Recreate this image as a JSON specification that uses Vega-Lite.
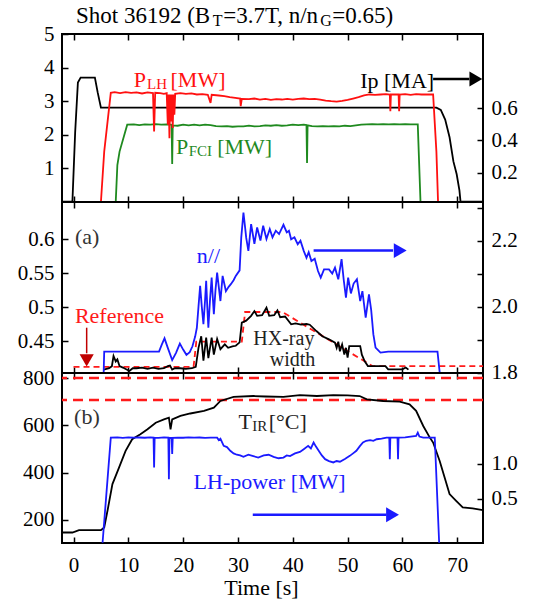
{
  "$schema": "https://vega.github.io/schema/vega-lite/v6.json",
  "background": "white",
  "padding": {"left": 16, "top": 4, "right": 6, "bottom": 2},
  "spacing": 0,
  "bounds": "flush",
  "resolve": {"scale": {"color": "independent", "size": "independent"}},
  "config": {
    "font": "Times New Roman, Liberation Serif, Times, serif",
    "view": {"stroke": "#000000", "strokeWidth": 2},
    "style": {
      "guide-label": {"font": "Times New Roman, Liberation Serif, Times, serif"},
      "guide-title": {"font": "Times New Roman, Liberation Serif, Times, serif"}
    },
    "axis": {"labelFont": "Times New Roman, Liberation Serif, Times, serif", "labelFontSize": 21, "labelColor": "#000000", "tickColor": "#000000", "tickWidth": 1.5, "tickSize": -6, "domain": false, "grid": false, "labelPadding": 14, "titleFont": "Times New Roman, Liberation Serif, Times, serif", "titleFontSize": 22, "titleFontWeight": "normal", "titleColor": "#000000"},
    "text": {"font": "Times New Roman, Liberation Serif, Times, serif"}
  },
  "datasets": {
    "ip": [{"t":-2.1,"v":0.02},{"t":-0.2,"v":0.02},{"t":0.3,"v":0.45},{"t":0.8,"v":0.76},{"t":1.3,"v":0.79},{"t":3.9,"v":0.79},{"t":4.4,"v":0.7},{"t":5.0,"v":0.604},{"t":66.2,"v":0.604},{"t":67.0,"v":0.59},{"t":67.8,"v":0.53},{"t":68.6,"v":0.42},{"t":69.3,"v":0.27},{"t":69.9,"v":0.19},{"t":70.4,"v":0.09},{"t":70.6,"v":0.02},{"t":74.7,"v":0.02}],
    "plh": [{"t":-2.1,"v":0},{"t":5.0,"v":0},{"t":5.6,"v":1.5},{"t":6.8,"v":3.25},{"t":7.5,"v":3.27},{"t":8.5,"v":3.24},{"t":9.5,"v":3.27},{"t":10.5,"v":3.25},{"t":11.5,"v":3.26},{"t":12.5,"v":3.23},{"t":13.5,"v":3.26},{"t":14.5,"v":3.24},{"t":14.7,"v":2.1},{"t":14.9,"v":3.25},{"t":15.8,"v":3.24},{"t":16.5,"v":3.22},{"t":17.0,"v":3.24},{"t":17.2,"v":2.3},{"t":17.35,"v":3.2},{"t":17.5,"v":1.9},{"t":17.65,"v":3.2},{"t":17.8,"v":2.4},{"t":17.95,"v":3.2},{"t":18.1,"v":2.2},{"t":18.25,"v":3.2},{"t":18.4,"v":2.6},{"t":18.55,"v":3.22},{"t":19.5,"v":3.24},{"t":20.5,"v":3.22},{"t":21.5,"v":3.23},{"t":22.5,"v":3.2},{"t":23.5,"v":3.21},{"t":24.5,"v":3.19},{"t":25.0,"v":2.95},{"t":25.2,"v":3.19},{"t":26.5,"v":3.17},{"t":27.5,"v":3.15},{"t":28.5,"v":3.12},{"t":29.5,"v":3.1},{"t":30.4,"v":3.08},{"t":30.5,"v":2.85},{"t":30.7,"v":3.07},{"t":32,"v":3.06},{"t":33,"v":3.08},{"t":34,"v":3.05},{"t":35,"v":3.07},{"t":36,"v":3.04},{"t":37,"v":3.06},{"t":38,"v":3.05},{"t":39,"v":3.07},{"t":40,"v":3.05},{"t":41,"v":3.07},{"t":42,"v":3.08},{"t":43,"v":3.06},{"t":44,"v":3.07},{"t":45,"v":3.05},{"t":46,"v":3.02},{"t":47,"v":3.0},{"t":48,"v":2.99},{"t":49,"v":3.01},{"t":50,"v":3.04},{"t":51,"v":3.08},{"t":52,"v":3.12},{"t":53,"v":3.17},{"t":54,"v":3.2},{"t":55,"v":3.19},{"t":56,"v":3.2},{"t":57,"v":3.21},{"t":57.7,"v":3.2},{"t":57.8,"v":2.7},{"t":57.9,"v":3.2},{"t":59.3,"v":3.2},{"t":59.4,"v":2.7},{"t":59.5,"v":3.2},{"t":60.5,"v":3.21},{"t":61.5,"v":3.19},{"t":62.5,"v":3.21},{"t":63.5,"v":3.2},{"t":64.5,"v":3.2},{"t":65.6,"v":3.2},{"t":66.2,"v":1.5},{"t":66.5,"v":0},{"t":74.7,"v":0}],
    "pfci": [{"t":-2.1,"v":0},{"t":7.7,"v":0},{"t":8.0,"v":1.1},{"t":8.4,"v":1.5},{"t":9.8,"v":2.3},{"t":11,"v":2.31},{"t":12,"v":2.29},{"t":13,"v":2.31},{"t":14,"v":2.3},{"t":15,"v":2.32},{"t":16,"v":2.3},{"t":17,"v":2.31},{"t":17.9,"v":2.3},{"t":18.0,"v":1.13},{"t":18.1,"v":2.28},{"t":19,"v":2.27},{"t":20,"v":2.3},{"t":21,"v":2.28},{"t":22,"v":2.3},{"t":23,"v":2.28},{"t":24,"v":2.3},{"t":25,"v":2.29},{"t":26,"v":2.26},{"t":27,"v":2.25},{"t":28,"v":2.26},{"t":29,"v":2.24},{"t":30,"v":2.25},{"t":31,"v":2.25},{"t":32,"v":2.27},{"t":33,"v":2.25},{"t":34,"v":2.26},{"t":35,"v":2.28},{"t":36,"v":2.27},{"t":37,"v":2.29},{"t":38,"v":2.27},{"t":39,"v":2.28},{"t":40,"v":2.3},{"t":41,"v":2.29},{"t":42,"v":2.3},{"t":42.5,"v":2.29},{"t":42.6,"v":1.16},{"t":42.7,"v":2.28},{"t":43.5,"v":2.26},{"t":44.5,"v":2.25},{"t":45.5,"v":2.26},{"t":46.5,"v":2.25},{"t":47.5,"v":2.26},{"t":48.5,"v":2.25},{"t":49.5,"v":2.27},{"t":50.5,"v":2.26},{"t":51.5,"v":2.28},{"t":52.5,"v":2.3},{"t":53.5,"v":2.31},{"t":54.5,"v":2.32},{"t":55.5,"v":2.31},{"t":56.5,"v":2.32},{"t":57.5,"v":2.31},{"t":58.5,"v":2.32},{"t":59.5,"v":2.31},{"t":60.5,"v":2.32},{"t":61.5,"v":2.31},{"t":62.8,"v":2.31},{"t":63.3,"v":0},{"t":74.7,"v":0}],
    "npar": [{"t":5.5,"v":1.8},{"t":5.6,"v":1.864},{"t":15.6,"v":1.864},{"t":16.1,"v":1.885},{"t":16.6,"v":1.904},{"t":17.2,"v":1.875},{"t":18.0,"v":1.838},{"t":18.7,"v":1.86},{"t":19.4,"v":1.888},{"t":20.0,"v":1.87},{"t":20.6,"v":1.854},{"t":21.2,"v":1.862},{"t":21.7,"v":1.88},{"t":22.2,"v":1.91},{"t":22.5,"v":1.936},{"t":22.8,"v":2.0},{"t":23.1,"v":2.063},{"t":23.4,"v":2.0},{"t":23.7,"v":1.947},{"t":24.0,"v":2.02},{"t":24.2,"v":2.078},{"t":24.4,"v":2.0},{"t":24.6,"v":1.936},{"t":24.9,"v":2.02},{"t":25.2,"v":2.088},{"t":25.4,"v":2.03},{"t":25.6,"v":1.977},{"t":25.9,"v":2.05},{"t":26.2,"v":2.103},{"t":26.5,"v":2.06},{"t":26.8,"v":2.017},{"t":27.2,"v":2.093},{"t":27.5,"v":2.07},{"t":27.8,"v":2.047},{"t":28.3,"v":2.06},{"t":28.7,"v":2.068},{"t":29.2,"v":2.08},{"t":29.6,"v":2.093},{"t":30.3,"v":2.11},{"t":30.6,"v":2.209},{"t":31.0,"v":2.285},{"t":31.3,"v":2.24},{"t":31.5,"v":2.209},{"t":31.9,"v":2.169},{"t":32.4,"v":2.25},{"t":32.7,"v":2.22},{"t":33.0,"v":2.19},{"t":33.5,"v":2.24},{"t":34.1,"v":2.2},{"t":34.6,"v":2.245},{"t":35.2,"v":2.205},{"t":35.8,"v":2.235},{"t":36.3,"v":2.21},{"t":36.9,"v":2.23},{"t":37.5,"v":2.22},{"t":38.3,"v":2.248},{"t":38.9,"v":2.225},{"t":39.3,"v":2.23},{"t":39.7,"v":2.204},{"t":40.3,"v":2.21},{"t":40.9,"v":2.189},{"t":41.4,"v":2.2},{"t":42.0,"v":2.169},{"t":42.5,"v":2.148},{"t":42.9,"v":2.165},{"t":43.4,"v":2.138},{"t":44.0,"v":2.145},{"t":44.6,"v":2.108},{"t":45.1,"v":2.088},{"t":45.7,"v":2.113},{"t":46.6,"v":2.113},{"t":47.2,"v":2.1},{"t":47.7,"v":2.118},{"t":48.3,"v":2.083},{"t":48.9,"v":2.144},{"t":49.3,"v":2.08},{"t":49.7,"v":2.027},{"t":50.1,"v":2.088},{"t":50.6,"v":2.04},{"t":51.1,"v":2.07},{"t":51.7,"v":2.083},{"t":52.3,"v":2.017},{"t":52.7,"v":2.047},{"t":53.3,"v":1.967},{"t":53.9,"v":2.037},{"t":54.3,"v":1.99},{"t":54.7,"v":1.916},{"t":55.1,"v":1.876},{"t":56.0,"v":1.861},{"t":57.4,"v":1.864},{"t":66.4,"v":1.864},{"t":66.8,"v":1.8}],
    "hx": [{"t":5.5,"v":0.408},{"t":6.5,"v":0.41},{"t":7.0,"v":0.413},{"t":7.3,"v":0.428},{"t":7.7,"v":0.42},{"t":8.0,"v":0.423},{"t":8.4,"v":0.413},{"t":9.0,"v":0.411},{"t":10.2,"v":0.406},{"t":10.8,"v":0.41},{"t":11.5,"v":0.41},{"t":12.5,"v":0.411},{"t":13.5,"v":0.409},{"t":14.5,"v":0.411},{"t":15.5,"v":0.409},{"t":16.5,"v":0.41},{"t":17.2,"v":0.413},{"t":17.6,"v":0.414},{"t":18.0,"v":0.408},{"t":18.5,"v":0.41},{"t":19.5,"v":0.41},{"t":20.5,"v":0.409},{"t":21.6,"v":0.41},{"t":22.3,"v":0.412},{"t":22.8,"v":0.44},{"t":23.3,"v":0.457},{"t":23.7,"v":0.421},{"t":24.2,"v":0.455},{"t":24.6,"v":0.425},{"t":25.2,"v":0.455},{"t":25.6,"v":0.43},{"t":26.2,"v":0.453},{"t":26.8,"v":0.438},{"t":27.6,"v":0.445},{"t":28.2,"v":0.44},{"t":29.0,"v":0.442},{"t":29.6,"v":0.443},{"t":30.3,"v":0.448},{"t":30.7,"v":0.477},{"t":31.5,"v":0.48},{"t":32.4,"v":0.487},{"t":33.0,"v":0.494},{"t":33.5,"v":0.487},{"t":34.4,"v":0.488},{"t":35.2,"v":0.499},{"t":35.7,"v":0.487},{"t":36.6,"v":0.488},{"t":37.2,"v":0.495},{"t":37.7,"v":0.485},{"t":38.6,"v":0.486},{"t":39.7,"v":0.4745},{"t":40.5,"v":0.476},{"t":41.5,"v":0.474},{"t":42.5,"v":0.475},{"t":43.1,"v":0.474},{"t":44.3,"v":0.4647},{"t":45.4,"v":0.457},{"t":46.6,"v":0.4525},{"t":47.7,"v":0.4475},{"t":48.0,"v":0.44},{"t":48.3,"v":0.449},{"t":48.6,"v":0.435},{"t":49.0,"v":0.445},{"t":49.4,"v":0.43},{"t":49.7,"v":0.44},{"t":50.0,"v":0.4255},{"t":50.3,"v":0.4426},{"t":52.3,"v":0.4426},{"t":52.6,"v":0.43},{"t":53.1,"v":0.4206},{"t":53.7,"v":0.4132},{"t":56.9,"v":0.413},{"t":57.4,"v":0.4084},{"t":60.0,"v":0.4084},{"t":60.6,"v":0.411},{"t":61.1,"v":0.408}],
    "ref": [{"t":0,"v":0.412},{"t":21.9,"v":0.412},{"t":22.4,"v":0.449},{"t":30.7,"v":0.449},{"t":31.3,"v":0.4927},{"t":38.1,"v":0.4927},{"t":54.6,"v":0.413},{"t":74.7,"v":0.413}],
    "tir": [{"t":-2.1,"v":146},{"t":-0.2,"v":146},{"t":1.0,"v":156},{"t":5.0,"v":156},{"t":5.6,"v":167},{"t":6.2,"v":238},{"t":7.1,"v":351},{"t":8.3,"v":421},{"t":9.5,"v":492},{"t":10.7,"v":541},{"t":12.2,"v":562},{"t":13.5,"v":583},{"t":15.0,"v":611},{"t":16.5,"v":625},{"t":17.4,"v":632},{"t":17.7,"v":583},{"t":18.0,"v":625},{"t":19.5,"v":640},{"t":21.3,"v":650},{"t":23.8,"v":661},{"t":25.6,"v":675},{"t":26.8,"v":703},{"t":29.2,"v":720},{"t":32.8,"v":724},{"t":35,"v":722},{"t":38.3,"v":720},{"t":41.3,"v":728},{"t":44.4,"v":724},{"t":47.4,"v":728},{"t":50,"v":727},{"t":52.2,"v":724},{"t":53.5,"v":710},{"t":56.5,"v":703},{"t":59.5,"v":700},{"t":61.3,"v":689},{"t":62.5,"v":661},{"t":63.8,"v":597},{"t":65.0,"v":548},{"t":65.6,"v":527},{"t":66.8,"v":449},{"t":67.7,"v":379},{"t":68.6,"v":309},{"t":69.8,"v":280},{"t":71,"v":252},{"t":72.8,"v":248},{"t":74.7,"v":241}],
    "lh": [{"t":5.3,"v":-0.13},{"t":6.8,"v":1.376},{"t":8,"v":1.378},{"t":9,"v":1.372},{"t":10,"v":1.378},{"t":11,"v":1.374},{"t":12,"v":1.377},{"t":13,"v":1.373},{"t":14,"v":1.378},{"t":14.6,"v":1.375},{"t":14.7,"v":0.947},{"t":14.8,"v":1.375},{"t":15.5,"v":1.372},{"t":16.5,"v":1.378},{"t":17.3,"v":1.374},{"t":17.4,"v":0.78},{"t":17.5,"v":1.37},{"t":17.9,"v":1.37},{"t":18.0,"v":1.14},{"t":18.1,"v":1.372},{"t":19,"v":1.376},{"t":20,"v":1.373},{"t":21,"v":1.378},{"t":22,"v":1.374},{"t":23,"v":1.377},{"t":24,"v":1.372},{"t":25,"v":1.376},{"t":26.2,"v":1.374},{"t":26.5,"v":1.34},{"t":26.8,"v":1.36},{"t":27.4,"v":1.257},{"t":28.0,"v":1.24},{"t":28.6,"v":1.186},{"t":29.2,"v":1.15},{"t":29.8,"v":1.13},{"t":30.4,"v":1.12},{"t":31,"v":1.1},{"t":31.9,"v":1.13},{"t":32.8,"v":1.11},{"t":33.7,"v":1.09},{"t":34.7,"v":1.12},{"t":35.6,"v":1.13},{"t":36.5,"v":1.1},{"t":37.4,"v":1.08},{"t":38.3,"v":1.09},{"t":38.9,"v":1.12},{"t":39.5,"v":1.11},{"t":40.4,"v":1.15},{"t":41.3,"v":1.17},{"t":42.0,"v":1.21},{"t":42.8,"v":1.257},{"t":43.3,"v":1.22},{"t":43.8,"v":1.305},{"t":44.2,"v":1.25},{"t":44.7,"v":1.19},{"t":45.3,"v":1.12},{"t":45.9,"v":1.067},{"t":46.6,"v":1.04},{"t":47.4,"v":1.02},{"t":48.0,"v":1.04},{"t":48.6,"v":1.03},{"t":49.5,"v":1.07},{"t":50.4,"v":1.114},{"t":51.0,"v":1.15},{"t":51.6,"v":1.186},{"t":52.2,"v":1.25},{"t":52.8,"v":1.305},{"t":53.4,"v":1.33},{"t":54.1,"v":1.34},{"t":54.7,"v":1.33},{"t":55.3,"v":1.352},{"t":56.2,"v":1.36},{"t":57.1,"v":1.376},{"t":57.6,"v":1.376},{"t":57.7,"v":1.067},{"t":57.8,"v":1.376},{"t":59.1,"v":1.376},{"t":59.2,"v":1.067},{"t":59.3,"v":1.376},{"t":60.5,"v":1.38},{"t":61.5,"v":1.39},{"t":62.5,"v":1.4},{"t":62.8,"v":1.447},{"t":63.1,"v":1.39},{"t":63.8,"v":1.376},{"t":65.9,"v":1.376},{"t":66.7,"v":-0.13}]
  },
  "vconcat": [
    {
      "width": 421, "height": 168,
      "resolve": {"scale": {"x": "independent", "y": "independent"}},
      "layer": [
        {
          "data": {"name": "ip"},
          "mark": {"type": "line", "color": "#000000", "strokeWidth": 1.8, "clip": true},
          "encoding": {
            "x": {"field": "t", "type": "quantitative", "scale": {"domain": [-2.1, 74.7], "nice": false, "zero": false}, "axis": {"orient": "bottom", "values": [0,10,20,30,40,50,60,70], "labels": false, "title": null}},
            "y": {"field": "v", "type": "quantitative", "scale": {"domain": [0.018, 1.061], "nice": false, "zero": false}, "axis": {"orient": "right", "values": [0.2, 0.4, 0.6], "format": ".1f", "title": null}}
          }
        },
        {
          "data": {"name": "pfci"},
          "mark": {"type": "line", "color": "#1f8a1f", "strokeWidth": 1.8, "clip": true},
          "encoding": {
            "x": {"field": "t", "type": "quantitative", "scale": {"domain": [-2.1, 74.7], "nice": false, "zero": false}, "axis": {"orient": "top", "values": [0,10,20,30,40,50,60,70], "labels": false, "title": null}},
            "y": {"field": "v", "type": "quantitative", "scale": {"domain": [0, 5], "nice": false, "zero": false}, "axis": {"orient": "left", "values": [1, 2, 3, 4, 5], "title": null}}
          }
        },
        {
          "data": {"name": "plh"},
          "mark": {"type": "line", "color": "#ff1010", "strokeWidth": 1.8, "clip": true},
          "encoding": {
            "x": {"field": "t", "type": "quantitative", "scale": {"domain": [-2.1, 74.7], "nice": false, "zero": false}, "axis": null},
            "y": {"field": "v", "type": "quantitative", "scale": {"domain": [0, 5], "nice": false, "zero": false}, "axis": null}
          }
        },
        {
          "data": {"values": [{"t1": 65.6, "t2": 72.2, "v": 3.66}]},
          "mark": {"type": "rule", "color": "#000000", "strokeWidth": 2.5},
          "encoding": {
            "x": {"field": "t1", "type": "quantitative", "scale": {"domain": [-2.1, 74.7], "nice": false, "zero": false}, "axis": null},
            "x2": {"field": "t2"},
            "y": {"field": "v", "type": "quantitative", "scale": {"domain": [0, 5], "nice": false, "zero": false}, "axis": null}
          }
        },
        {
          "data": {"values": [{"t": 73.4, "v": 3.66}]},
          "mark": {"type": "point", "shape": "triangle-right", "filled": true, "color": "#000000", "size": 220, "opacity": 1},
          "encoding": {
            "x": {"field": "t", "type": "quantitative", "scale": {"domain": [-2.1, 74.7], "nice": false, "zero": false}, "axis": null},
            "y": {"field": "v", "type": "quantitative", "scale": {"domain": [0, 5], "nice": false, "zero": false}, "axis": null}
          }
        },
        {
          "data": {"values": [
            {"t": 0.46, "v": 5.325, "label": "Shot 36192 (B", "series": "Ip", "role": "tmain"},
            {"t": 25.4, "v": 5.24, "label": "T", "series": "Ip", "role": "tsub"},
            {"t": 27.3, "v": 5.325, "label": "=3.7T, n/n", "series": "Ip", "role": "tmain"},
            {"t": 45.0, "v": 5.24, "label": "G", "series": "Ip", "role": "tsub"},
            {"t": 47.2, "v": 5.325, "label": "=0.65)", "series": "Ip", "role": "tmain"},
            {"t": 11.0, "v": 3.43, "label": "P", "series": "PLH", "role": "main"},
            {"t": 13.4, "v": 3.37, "label": "LH", "series": "PLH", "role": "sub"},
            {"t": 17.7, "v": 3.43, "label": "[MW]", "series": "PLH", "role": "main"},
            {"t": 18.7, "v": 1.42, "label": "P", "series": "PFCI", "role": "main"},
            {"t": 21.0, "v": 1.36, "label": "FCI", "series": "PFCI", "role": "sub"},
            {"t": 26.2, "v": 1.42, "label": "[MW]", "series": "PFCI", "role": "main"},
            {"t": 52.3, "v": 3.40, "label": "Ip [MA]", "series": "Ip", "role": "main"}
          ]},
          "mark": {"type": "text", "align": "left", "baseline": "alphabetic", "font": "Times New Roman, Liberation Serif, Times, serif"},
          "encoding": {
            "x": {"field": "t", "type": "quantitative", "scale": {"domain": [-2.1, 74.7], "nice": false, "zero": false}, "axis": null},
            "y": {"field": "v", "type": "quantitative", "scale": {"domain": [0, 5], "nice": false, "zero": false}, "axis": null},
            "text": {"field": "label"},
            "color": {"field": "series", "type": "nominal", "scale": {"domain": ["PLH", "PFCI", "Ip", "a", "n", "ref", "hx", "b", "tir", "lh"], "range": ["#ff1010", "#1f8a1f", "#000000", "#333333", "#1a1aff", "#ff1a1a", "#222222", "#333333", "#222222", "#1a1aff"]}, "legend": null},
            "size": {"field": "role", "type": "nominal", "scale": {"type": "ordinal", "domain": ["main", "sub", "tmain", "tsub"], "range": [22, 15, 23, 16]}, "legend": null}
          }
        }
      ]
    },
    {
      "width": 421, "height": 171,
      "resolve": {"scale": {"x": "independent", "y": "independent"}},
      "layer": [
        {
          "data": {"name": "ref"},
          "mark": {"type": "line", "color": "#ff1a1a", "strokeWidth": 1.8, "strokeDash": [6, 4], "clip": true},
          "encoding": {
            "x": {"field": "t", "type": "quantitative", "scale": {"domain": [-2.1, 74.7], "nice": false, "zero": false}, "axis": {"orient": "bottom", "values": [0,10,20,30,40,50,60,70], "labels": false, "title": null}},
            "y": {"field": "v", "type": "quantitative", "scale": {"domain": [0.403, 0.6544], "nice": false, "zero": false}, "axis": {"orient": "left", "values": [0.45, 0.5, 0.55, 0.6], "format": "~g", "title": null}}
          }
        },
        {
          "data": {"name": "hx"},
          "mark": {"type": "line", "color": "#000000", "strokeWidth": 1.8, "clip": true},
          "encoding": {
            "x": {"field": "t", "type": "quantitative", "scale": {"domain": [-2.1, 74.7], "nice": false, "zero": false}, "axis": null},
            "y": {"field": "v", "type": "quantitative", "scale": {"domain": [0.403, 0.6544], "nice": false, "zero": false}, "axis": null}
          }
        },
        {
          "data": {"name": "npar"},
          "mark": {"type": "line", "color": "#1a1aff", "strokeWidth": 1.8, "clip": true},
          "encoding": {
            "x": {"field": "t", "type": "quantitative", "scale": {"domain": [-2.1, 74.7], "nice": false, "zero": false}, "axis": {"orient": "top", "values": [0,10,20,30,40,50,60,70], "labels": false, "title": null}},
            "y": {"field": "v", "type": "quantitative", "scale": {"domain": [1.799, 2.317], "nice": false, "zero": false}, "axis": {"orient": "right", "values": [1.8, 1.9, 2.0, 2.1, 2.2, 2.3], "format": ".1f", "labelExpr": "datum.label == '1.9' || datum.label == '2.1' || datum.label == '2.3' ? '' : datum.label", "title": null}}
          }
        },
        {
          "data": {"values": [{"t1": 43.8, "t2": 58.3, "v": 0.583}]},
          "mark": {"type": "rule", "color": "#1a1aff", "strokeWidth": 2.5},
          "encoding": {
            "x": {"field": "t1", "type": "quantitative", "scale": {"domain": [-2.1, 74.7], "nice": false, "zero": false}, "axis": null},
            "x2": {"field": "t2"},
            "y": {"field": "v", "type": "quantitative", "scale": {"domain": [0.403, 0.6544], "nice": false, "zero": false}, "axis": null}
          }
        },
        {
          "data": {"values": [{"t": 59.6, "v": 0.583}]},
          "mark": {"type": "point", "shape": "triangle-right", "filled": true, "color": "#1a1aff", "size": 220, "opacity": 1},
          "encoding": {
            "x": {"field": "t", "type": "quantitative", "scale": {"domain": [-2.1, 74.7], "nice": false, "zero": false}, "axis": null},
            "y": {"field": "v", "type": "quantitative", "scale": {"domain": [0.403, 0.6544], "nice": false, "zero": false}, "axis": null}
          }
        },
        {
          "data": {"values": [{"t": 2.4, "v1": 0.4696, "v2": 0.432}]},
          "mark": {"type": "rule", "color": "#c00000", "strokeWidth": 1.5},
          "encoding": {
            "x": {"field": "t", "type": "quantitative", "scale": {"domain": [-2.1, 74.7], "nice": false, "zero": false}, "axis": null},
            "y": {"field": "v1", "type": "quantitative", "scale": {"domain": [0.403, 0.6544], "nice": false, "zero": false}, "axis": null},
            "y2": {"field": "v2"}
          }
        },
        {
          "data": {"values": [{"t": 2.4, "v": 0.4216}]},
          "mark": {"type": "point", "shape": "triangle-down", "filled": true, "color": "#c00000", "size": 200, "opacity": 1},
          "encoding": {
            "x": {"field": "t", "type": "quantitative", "scale": {"domain": [-2.1, 74.7], "nice": false, "zero": false}, "axis": null},
            "y": {"field": "v", "type": "quantitative", "scale": {"domain": [0.403, 0.6544], "nice": false, "zero": false}, "axis": null}
          }
        },
        {
          "data": {"values": [
            {"t": 0.25, "v": 0.593, "label": "(a)", "series": "a", "role": "main"},
            {"t": 22.5, "v": 0.565, "label": "n//", "series": "n", "role": "main"},
            {"t": 0.25, "v": 0.477, "label": "Reference", "series": "ref", "role": "main"},
            {"t": 32.8, "v": 0.4435, "label": "HX-ray", "series": "hx", "role": "small"},
            {"t": 35.8, "v": 0.4135, "label": "width", "series": "hx", "role": "small"}
          ]},
          "mark": {"type": "text", "align": "left", "baseline": "alphabetic", "font": "Times New Roman, Liberation Serif, Times, serif"},
          "encoding": {
            "x": {"field": "t", "type": "quantitative", "scale": {"domain": [-2.1, 74.7], "nice": false, "zero": false}, "axis": null},
            "y": {"field": "v", "type": "quantitative", "scale": {"domain": [0.403, 0.6544], "nice": false, "zero": false}, "axis": null},
            "text": {"field": "label"},
            "color": {"field": "series", "type": "nominal", "scale": {"domain": ["PLH", "PFCI", "Ip", "a", "n", "ref", "hx", "b", "tir", "lh"], "range": ["#ff1010", "#1f8a1f", "#000000", "#333333", "#1a1aff", "#ff1a1a", "#222222", "#333333", "#222222", "#1a1aff"]}, "legend": null},
            "size": {"field": "role", "type": "nominal", "scale": {"type": "ordinal", "domain": ["main", "small"], "range": [22, 20]}, "legend": null}
          }
        }
      ]
    },
    {
      "width": 421, "height": 170,
      "resolve": {"scale": {"x": "independent", "y": "independent"}},
      "layer": [
        {
          "data": {"values": [{"v": 800}, {"v": 707}]},
          "mark": {"type": "rule", "color": "#ff1a1a", "strokeWidth": 2.5, "strokeDash": [10, 6]},
          "encoding": {
            "y": {"field": "v", "type": "quantitative", "scale": {"domain": [101.5, 821.5], "nice": false, "zero": false}, "axis": {"orient": "left", "values": [200, 400, 600, 800], "format": "d", "title": null}}
          }
        },
        {
          "data": {"name": "tir"},
          "mark": {"type": "line", "color": "#000000", "strokeWidth": 1.8, "clip": true},
          "encoding": {
            "x": {"field": "t", "type": "quantitative", "scale": {"domain": [-2.1, 74.7], "nice": false, "zero": false}, "axis": {"orient": "bottom", "values": [0,10,20,30,40,50,60,70], "format": "d", "labelPadding": 17, "title": "Time [s]", "titlePadding": 2, "titleX": 199}},
            "y": {"field": "v", "type": "quantitative", "scale": {"domain": [101.5, 821.5], "nice": false, "zero": false}, "axis": null}
          }
        },
        {
          "data": {"name": "lh"},
          "mark": {"type": "line", "color": "#1a1aff", "strokeWidth": 1.8, "clip": true},
          "encoding": {
            "x": {"field": "t", "type": "quantitative", "scale": {"domain": [-2.1, 74.7], "nice": false, "zero": false}, "axis": {"orient": "top", "values": [0,10,20,30,40,50,60,70], "labels": false, "title": null}},
            "y": {"field": "v", "type": "quantitative", "scale": {"domain": [-0.133, 2.3], "nice": false, "zero": false}, "axis": {"orient": "right", "values": [0.5, 1.0], "format": ".1f", "title": null}}
          }
        },
        {
          "data": {"values": [{"t1": 32.7, "t2": 57.1, "v": 221}]},
          "mark": {"type": "rule", "color": "#1a1aff", "strokeWidth": 2.5},
          "encoding": {
            "x": {"field": "t1", "type": "quantitative", "scale": {"domain": [-2.1, 74.7], "nice": false, "zero": false}, "axis": null},
            "x2": {"field": "t2"},
            "y": {"field": "v", "type": "quantitative", "scale": {"domain": [101.5, 821.5], "nice": false, "zero": false}, "axis": null}
          }
        },
        {
          "data": {"values": [{"t": 58.2, "v": 221}]},
          "mark": {"type": "point", "shape": "triangle-right", "filled": true, "color": "#1a1aff", "size": 220, "opacity": 1},
          "encoding": {
            "x": {"field": "t", "type": "quantitative", "scale": {"domain": [-2.1, 74.7], "nice": false, "zero": false}, "axis": null},
            "y": {"field": "v", "type": "quantitative", "scale": {"domain": [101.5, 821.5], "nice": false, "zero": false}, "axis": null}
          }
        },
        {
          "data": {"values": [
            {"t": 0.1, "v": 604.6, "label": "(b)", "series": "b", "role": "main"},
            {"t": 30.1, "v": 583.5, "label": "T", "series": "tir", "role": "main"},
            {"t": 32.6, "v": 575, "label": "IR", "series": "tir", "role": "sub"},
            {"t": 35.6, "v": 583.5, "label": "[°C]", "series": "tir", "role": "main"},
            {"t": 21.9, "v": 329.8, "label": "LH-power [MW]", "series": "lh", "role": "main"}
          ]},
          "mark": {"type": "text", "align": "left", "baseline": "alphabetic", "font": "Times New Roman, Liberation Serif, Times, serif"},
          "encoding": {
            "x": {"field": "t", "type": "quantitative", "scale": {"domain": [-2.1, 74.7], "nice": false, "zero": false}, "axis": null},
            "y": {"field": "v", "type": "quantitative", "scale": {"domain": [101.5, 821.5], "nice": false, "zero": false}, "axis": null},
            "text": {"field": "label"},
            "color": {"field": "series", "type": "nominal", "scale": {"domain": ["PLH", "PFCI", "Ip", "a", "n", "ref", "hx", "b", "tir", "lh"], "range": ["#ff1010", "#1f8a1f", "#000000", "#333333", "#1a1aff", "#ff1a1a", "#222222", "#333333", "#222222", "#1a1aff"]}, "legend": null},
            "size": {"field": "role", "type": "nominal", "scale": {"type": "ordinal", "domain": ["main", "sub"], "range": [22, 15]}, "legend": null}
          }
        }
      ]
    }
  ]
}
